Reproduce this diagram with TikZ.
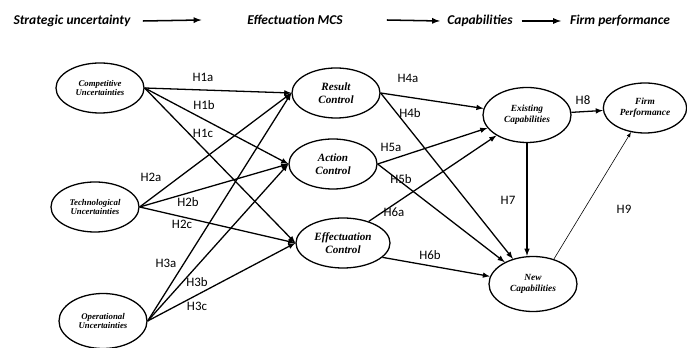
\documentclass[tikz,border=0pt]{standalone}
\usepackage{fontspec}
\setmainfont{Liberation Serif}
\setsansfont{Carlito}
\usetikzlibrary{shapes}

\begin{document}
\begin{tikzpicture}[x=0.03cm,y=-0.03cm,
  var/.style={draw, ellipse, line width=1.1pt, inner sep=0pt, align=center,
    minimum width=2.64cm, minimum height=1.5cm, font=\fontsize{7.5}{8.5}\selectfont\bfseries\itshape},
  mcs/.style={var, font=\fontsize{9.5}{11}\selectfont\bfseries\itshape},
  capvar/.style={var, font=\fontsize{8}{9.5}\selectfont\bfseries\itshape, minimum height=1.65cm},
  hd/.style={font=\sffamily\fontsize{11.5}{13}\selectfont\bfseries\itshape},
  hyp/.style={font=\sffamily\fontsize{11}{13}\selectfont},
  arr/.style={-latex, line width=1.1pt},
  hdarr/.style={-latex, line width=1.3pt}]
\useasboundingbox (0,0) rectangle (687,348);

% header
\node [hd] (h1) at (72,21) {Strategic uncertainty};
\node [hd] (h2) at (295,20) {Effectuation MCS};
\node [hd] (h3) at (480,21) {Capabilities};
\node [hd] (h4) at (620,21) {Firm performance};
\draw [hdarr] ([xshift=0.25cm]h1.east) -- ([xshift=-1.25cm]h2.west);
\draw [hdarr] ([xshift=1.2cm]h2.east) -- ([xshift=-0.1cm]h3.west);
\draw [hdarr] ([xshift=0.15cm]h3.east) -- ([xshift=-0.15cm]h4.west);

% ellipses
\node [var] (cu) at (100,88) {Competitive\\Uncertainties};
\node [var] (tu) at (95,207) {Technological\\Uncertainties};
\node [var, minimum height=1.65cm] (ou) at (103,321) {Operational\\Uncertainties};
\node [mcs] (rc) at (336,93) {Result\\Control};
\node [mcs] (ac) at (333,164) {Action\\Control};
\node [mcs, minimum width=2.82cm] (ec) at (343,243) {Effectuation\\Control};
\node [capvar] (xc) at (527,115) {Existing\\Capabilities};
\node [capvar, minimum width=2.5cm, minimum height=1.5cm] (fp) at (645,108) {Firm\\Performance};
\node [capvar] (nc) at (533,284) {New\\Capabilities};

% uncertainties -> MCS
\draw [arr] (cu.east) -- (rc.west);
\draw [arr] (cu.east) -- (ac.west);
\draw [arr] (cu.east) -- (ec.west);
\draw [arr] (tu.east) -- (rc.west);
\draw [arr] (tu.east) -- (ac.west);
\draw [arr] (tu.east) -- (ec.west);
\draw [arr] (ou.east) -- (rc.west);
\draw [arr] (ou.east) -- (ac.west);
\draw [arr] (ou.east) -- (ec.west);

% MCS -> capabilities
\draw [arr] (rc.east) -- (xc);
\draw [arr] (rc.east) -- (nc);
\draw [arr] (ac.east) -- (xc);
\draw [arr] (ac.east) -- (nc);
\draw [arr] (ec.40) -- (xc);
\draw [arr] (ec.-20) -- (nc);

% capabilities -> performance
\draw [arr] (xc) -- (fp);
\draw [arr] (xc.south) -- (xc.south |- nc.north);
\draw [-latex, line width=0.5pt] (nc.50) -- (fp.-120);

\node [hyp] at (203,77) {H1a};
\node [hyp] at (204,105) {H1b};
\node [hyp] at (203,133) {H1c};
\node [hyp] at (151,177) {H2a};
\node [hyp] at (188,202) {H2b};
\node [hyp] at (182,224) {H2c};
\node [hyp] at (166,263) {H3a};
\node [hyp] at (197,282) {H3b};
\node [hyp] at (197,306) {H3c};
\node [hyp] at (408,78) {H4a};
\node [hyp] at (410,113) {H4b};
\node [hyp] at (391,147) {H5a};
\node [hyp] at (401,179) {H5b};
\node [hyp] at (394,212) {H6a};
\node [hyp] at (430,255) {H6b};
\node [hyp] at (508,200) {H7};
\node [hyp] at (583,100) {H8};
\node [hyp] at (624,209) {H9};
\end{tikzpicture}
\end{document}
